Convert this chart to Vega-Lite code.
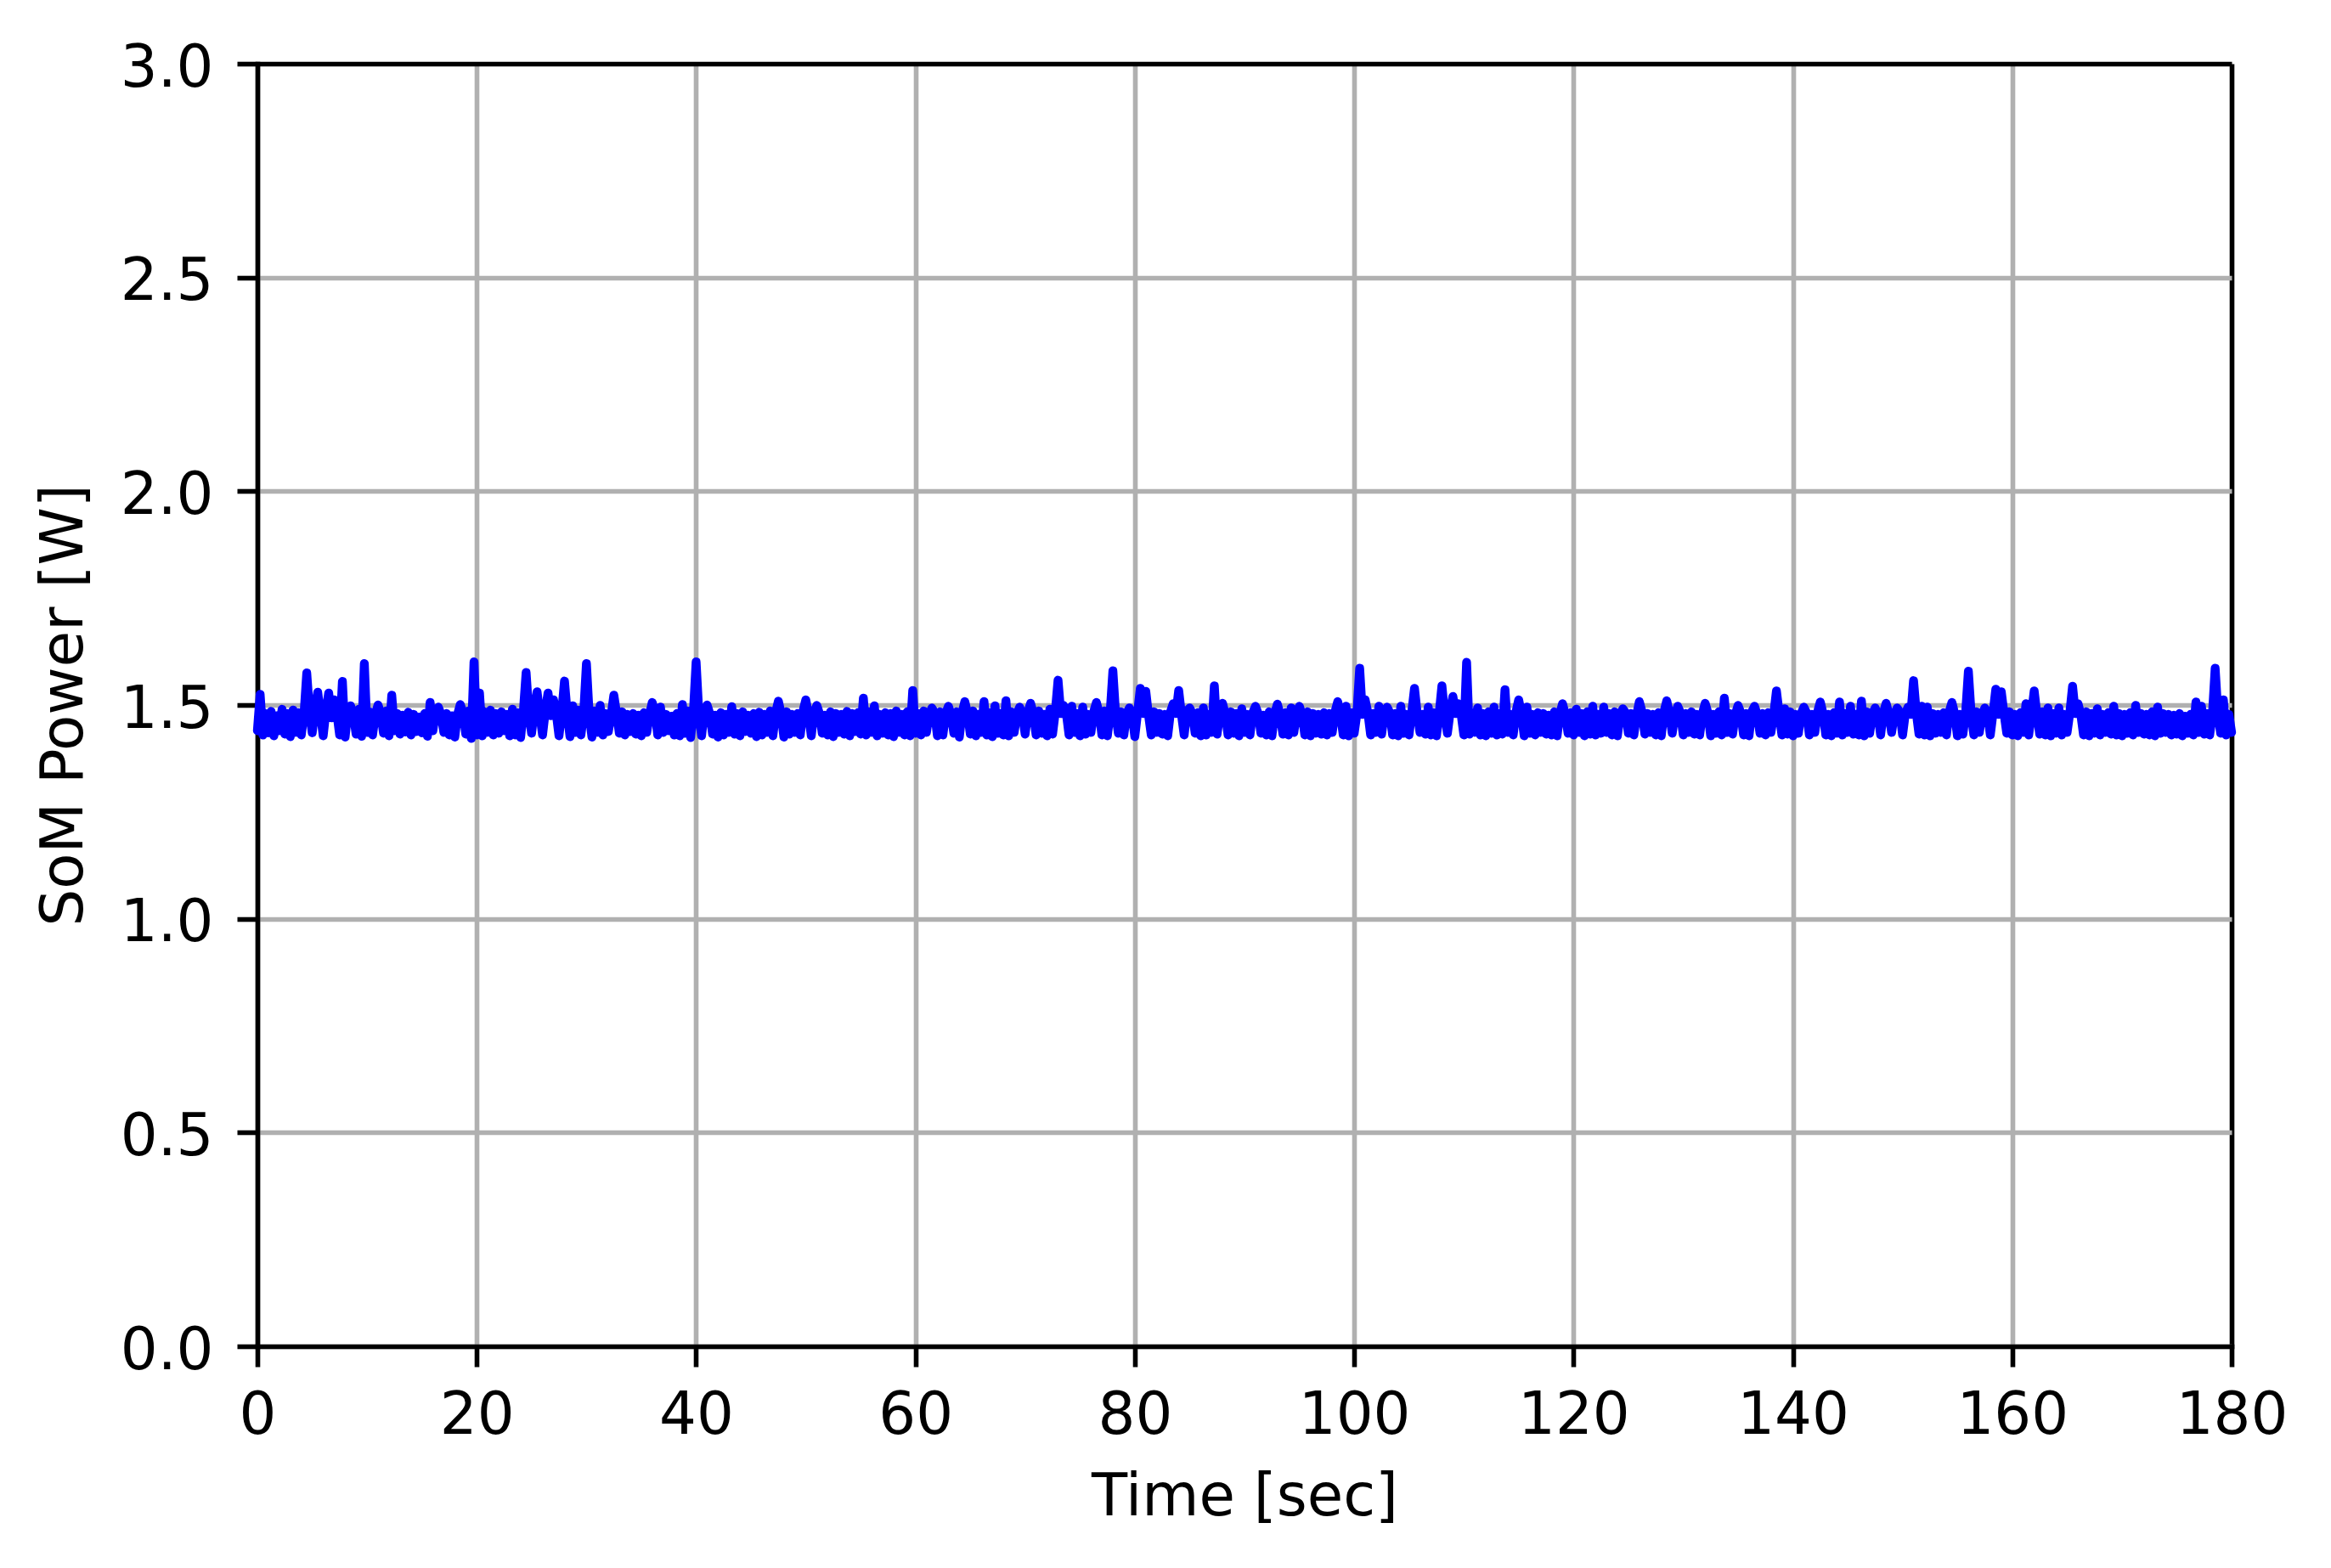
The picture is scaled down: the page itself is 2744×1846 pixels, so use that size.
{
"$schema": "https://vega.github.io/schema/vega-lite/v6.json",
"width": 2324, "height": 1510,
"autosize": {"type": "none"},
"padding": {"left": 303, "top": 75, "right": 117, "bottom": 261},
"background": "white",
"config": {"view": {"stroke": null}, "font": "DejaVu Sans"},
"data": {"values": [
{"t":0,"p":1.44},{"t":0.25,"p":1.525},{"t":0.5,"p":1.43},{"t":0.75,"p":1.48},
{"t":1,"p":1.435},{"t":1.25,"p":1.485},{"t":1.5,"p":1.428},{"t":1.75,"p":1.475},
{"t":2,"p":1.44},{"t":2.25,"p":1.49},{"t":2.5,"p":1.432},{"t":2.75,"p":1.48},
{"t":3,"p":1.426},{"t":3.25,"p":1.488},{"t":3.5,"p":1.436},{"t":3.75,"p":1.482},
{"t":4,"p":1.43},{"t":4.25,"p":1.478},{"t":4.5,"p":1.575},{"t":4.75,"p":1.485},
{"t":5,"p":1.435},{"t":5.25,"p":1.49},{"t":5.5,"p":1.53},{"t":5.75,"p":1.48},
{"t":6,"p":1.428},{"t":6.25,"p":1.486},{"t":6.5,"p":1.528},{"t":6.75,"p":1.47},
{"t":7,"p":1.512},{"t":7.25,"p":1.48},{"t":7.5,"p":1.43},{"t":7.75,"p":1.555},
{"t":8,"p":1.425},{"t":8.25,"p":1.485},{"t":8.5,"p":1.498},{"t":8.75,"p":1.478},
{"t":9,"p":1.432},{"t":9.25,"p":1.49},{"t":9.5,"p":1.427},{"t":9.75,"p":1.597},
{"t":10,"p":1.436},{"t":10.25,"p":1.484},{"t":10.5,"p":1.43},{"t":10.75,"p":1.478},
{"t":11,"p":1.5},{"t":11.25,"p":1.48},{"t":11.5,"p":1.434},{"t":11.75,"p":1.486},
{"t":12,"p":1.428},{"t":12.25,"p":1.523},{"t":12.5,"p":1.44},{"t":12.75,"p":1.48},
{"t":13,"p":1.432},{"t":13.25,"p":1.476},{"t":13.5,"p":1.437},{"t":13.75,"p":1.483},
{"t":14,"p":1.43},{"t":14.25,"p":1.478},{"t":14.5,"p":1.438},{"t":14.75,"p":1.472},
{"t":15,"p":1.435},{"t":15.25,"p":1.48},{"t":15.5,"p":1.427},{"t":15.75,"p":1.506},
{"t":16,"p":1.44},{"t":16.25,"p":1.484},{"t":16.5,"p":1.495},{"t":16.75,"p":1.478},
{"t":17,"p":1.436},{"t":17.25,"p":1.48},{"t":17.5,"p":1.43},{"t":17.75,"p":1.475},
{"t":18,"p":1.425},{"t":18.25,"p":1.478},{"t":18.5,"p":1.501},{"t":18.75,"p":1.482},
{"t":19,"p":1.432},{"t":19.25,"p":1.486},{"t":19.5,"p":1.422},{"t":19.75,"p":1.601},
{"t":20,"p":1.43},{"t":20.25,"p":1.528},{"t":20.5,"p":1.428},{"t":20.75,"p":1.484},
{"t":21,"p":1.436},{"t":21.25,"p":1.488},{"t":21.5,"p":1.43},{"t":21.75,"p":1.48},
{"t":22,"p":1.434},{"t":22.25,"p":1.484},{"t":22.5,"p":1.44},{"t":22.75,"p":1.478},
{"t":23,"p":1.428},{"t":23.25,"p":1.49},{"t":23.5,"p":1.43},{"t":23.75,"p":1.482},
{"t":24,"p":1.424},{"t":24.25,"p":1.486},{"t":24.5,"p":1.576},{"t":24.75,"p":1.48},
{"t":25,"p":1.434},{"t":25.25,"p":1.49},{"t":25.5,"p":1.531},{"t":25.75,"p":1.478},
{"t":26,"p":1.43},{"t":26.25,"p":1.486},{"t":26.5,"p":1.528},{"t":26.75,"p":1.475},
{"t":27,"p":1.512},{"t":27.25,"p":1.48},{"t":27.5,"p":1.428},{"t":27.75,"p":1.484},
{"t":28,"p":1.556},{"t":28.25,"p":1.48},{"t":28.5,"p":1.426},{"t":28.75,"p":1.498},
{"t":29,"p":1.436},{"t":29.25,"p":1.488},{"t":29.5,"p":1.43},{"t":29.75,"p":1.482},
{"t":30,"p":1.597},{"t":30.25,"p":1.478},{"t":30.5,"p":1.425},{"t":30.75,"p":1.486},
{"t":31,"p":1.436},{"t":31.25,"p":1.499},{"t":31.5,"p":1.43},{"t":31.75,"p":1.48},
{"t":32,"p":1.438},{"t":32.25,"p":1.476},{"t":32.5,"p":1.523},{"t":32.75,"p":1.48},
{"t":33,"p":1.434},{"t":33.25,"p":1.484},{"t":33.5,"p":1.43},{"t":33.75,"p":1.478},
{"t":34,"p":1.438},{"t":34.25,"p":1.48},{"t":34.5,"p":1.432},{"t":34.75,"p":1.476},
{"t":35,"p":1.428},{"t":35.25,"p":1.482},{"t":35.5,"p":1.436},{"t":35.75,"p":1.478},
{"t":36,"p":1.506},{"t":36.25,"p":1.484},{"t":36.5,"p":1.43},{"t":36.75,"p":1.495},
{"t":37,"p":1.436},{"t":37.25,"p":1.478},{"t":37.5,"p":1.44},{"t":37.75,"p":1.474},
{"t":38,"p":1.43},{"t":38.25,"p":1.48},{"t":38.5,"p":1.428},{"t":38.75,"p":1.501},
{"t":39,"p":1.434},{"t":39.25,"p":1.486},{"t":39.5,"p":1.424},{"t":39.75,"p":1.482},
{"t":40,"p":1.601},{"t":40.25,"p":1.48},{"t":40.5,"p":1.428},{"t":40.75,"p":1.485},
{"t":41,"p":1.5},{"t":41.25,"p":1.48},{"t":41.5,"p":1.432},{"t":41.75,"p":1.476},
{"t":42,"p":1.425},{"t":42.25,"p":1.482},{"t":42.5,"p":1.43},{"t":42.75,"p":1.478},
{"t":43,"p":1.436},{"t":43.25,"p":1.496},{"t":43.5,"p":1.432},{"t":43.75,"p":1.48},
{"t":44,"p":1.428},{"t":44.25,"p":1.484},{"t":44.5,"p":1.438},{"t":44.75,"p":1.476},
{"t":45,"p":1.434},{"t":45.25,"p":1.48},{"t":45.5,"p":1.426},{"t":45.75,"p":1.483},
{"t":46,"p":1.43},{"t":46.25,"p":1.478},{"t":46.5,"p":1.436},{"t":46.75,"p":1.486},
{"t":47,"p":1.428},{"t":47.25,"p":1.482},{"t":47.5,"p":1.509},{"t":47.75,"p":1.48},
{"t":48,"p":1.425},{"t":48.25,"p":1.484},{"t":48.5,"p":1.432},{"t":48.75,"p":1.478},
{"t":49,"p":1.436},{"t":49.25,"p":1.48},{"t":49.5,"p":1.43},{"t":49.75,"p":1.486},
{"t":50,"p":1.512},{"t":50.25,"p":1.478},{"t":50.5,"p":1.428},{"t":50.75,"p":1.482},
{"t":51,"p":1.499},{"t":51.25,"p":1.48},{"t":51.5,"p":1.434},{"t":51.75,"p":1.476},
{"t":52,"p":1.43},{"t":52.25,"p":1.484},{"t":52.5,"p":1.426},{"t":52.75,"p":1.48},
{"t":53,"p":1.436},{"t":53.25,"p":1.478},{"t":53.5,"p":1.432},{"t":53.75,"p":1.485},
{"t":54,"p":1.428},{"t":54.25,"p":1.48},{"t":54.5,"p":1.438},{"t":54.75,"p":1.482},
{"t":55,"p":1.432},{"t":55.25,"p":1.516},{"t":55.5,"p":1.43},{"t":55.75,"p":1.484},
{"t":56,"p":1.436},{"t":56.25,"p":1.498},{"t":56.5,"p":1.428},{"t":56.75,"p":1.478},
{"t":57,"p":1.434},{"t":57.25,"p":1.482},{"t":57.5,"p":1.43},{"t":57.75,"p":1.48},
{"t":58,"p":1.426},{"t":58.25,"p":1.486},{"t":58.5,"p":1.436},{"t":58.75,"p":1.478},
{"t":59,"p":1.43},{"t":59.25,"p":1.484},{"t":59.5,"p":1.428},{"t":59.75,"p":1.534},
{"t":60,"p":1.434},{"t":60.25,"p":1.48},{"t":60.5,"p":1.43},{"t":60.75,"p":1.486},
{"t":61,"p":1.436},{"t":61.25,"p":1.478},{"t":61.5,"p":1.493},{"t":61.75,"p":1.482},
{"t":62,"p":1.428},{"t":62.25,"p":1.484},{"t":62.5,"p":1.43},{"t":62.75,"p":1.48},
{"t":63,"p":1.497},{"t":63.25,"p":1.478},{"t":63.5,"p":1.434},{"t":63.75,"p":1.484},
{"t":64,"p":1.425},{"t":64.25,"p":1.482},{"t":64.5,"p":1.508},{"t":64.75,"p":1.48},
{"t":65,"p":1.432},{"t":65.25,"p":1.486},{"t":65.5,"p":1.428},{"t":65.75,"p":1.478},
{"t":66,"p":1.436},{"t":66.25,"p":1.508},{"t":66.5,"p":1.43},{"t":66.75,"p":1.482},
{"t":67,"p":1.426},{"t":67.25,"p":1.498},{"t":67.5,"p":1.434},{"t":67.75,"p":1.48},
{"t":68,"p":1.43},{"t":68.25,"p":1.51},{"t":68.5,"p":1.428},{"t":68.75,"p":1.484},
{"t":69,"p":1.436},{"t":69.25,"p":1.48},{"t":69.5,"p":1.495},{"t":69.75,"p":1.478},
{"t":70,"p":1.432},{"t":70.25,"p":1.484},{"t":70.5,"p":1.504},{"t":70.75,"p":1.48},
{"t":71,"p":1.43},{"t":71.25,"p":1.486},{"t":71.5,"p":1.434},{"t":71.75,"p":1.478},
{"t":72,"p":1.428},{"t":72.25,"p":1.49},{"t":72.5,"p":1.432},{"t":72.75,"p":1.484},
{"t":73,"p":1.558},{"t":73.25,"p":1.48},{"t":73.5,"p":1.499},{"t":73.75,"p":1.482},
{"t":74,"p":1.43},{"t":74.25,"p":1.497},{"t":74.5,"p":1.436},{"t":74.75,"p":1.48},
{"t":75,"p":1.428},{"t":75.25,"p":1.495},{"t":75.5,"p":1.432},{"t":75.75,"p":1.478},
{"t":76,"p":1.436},{"t":76.25,"p":1.484},{"t":76.5,"p":1.506},{"t":76.75,"p":1.48},
{"t":77,"p":1.43},{"t":77.25,"p":1.486},{"t":77.5,"p":1.428},{"t":77.75,"p":1.482},
{"t":78,"p":1.58},{"t":78.25,"p":1.478},{"t":78.5,"p":1.434},{"t":78.75,"p":1.484},
{"t":79,"p":1.43},{"t":79.25,"p":1.48},{"t":79.5,"p":1.493},{"t":79.75,"p":1.478},
{"t":80,"p":1.426},{"t":80.25,"p":1.482},{"t":80.5,"p":1.539},{"t":80.75,"p":1.48},
{"t":81,"p":1.532},{"t":81.25,"p":1.476},{"t":81.5,"p":1.43},{"t":81.75,"p":1.484},
{"t":82,"p":1.436},{"t":82.25,"p":1.48},{"t":82.5,"p":1.432},{"t":82.75,"p":1.478},
{"t":83,"p":1.428},{"t":83.25,"p":1.484},{"t":83.5,"p":1.503},{"t":83.75,"p":1.48},
{"t":84,"p":1.534},{"t":84.25,"p":1.478},{"t":84.5,"p":1.43},{"t":84.75,"p":1.486},
{"t":85,"p":1.493},{"t":85.25,"p":1.48},{"t":85.5,"p":1.434},{"t":85.75,"p":1.482},
{"t":86,"p":1.428},{"t":86.25,"p":1.493},{"t":86.5,"p":1.43},{"t":86.75,"p":1.478},
{"t":87,"p":1.436},{"t":87.25,"p":1.545},{"t":87.5,"p":1.432},{"t":87.75,"p":1.48},
{"t":88,"p":1.504},{"t":88.25,"p":1.478},{"t":88.5,"p":1.43},{"t":88.75,"p":1.484},
{"t":89,"p":1.434},{"t":89.25,"p":1.48},{"t":89.5,"p":1.428},{"t":89.75,"p":1.491},
{"t":90,"p":1.436},{"t":90.25,"p":1.478},{"t":90.5,"p":1.43},{"t":90.75,"p":1.482},
{"t":91,"p":1.497},{"t":91.25,"p":1.48},{"t":91.5,"p":1.434},{"t":91.75,"p":1.476},
{"t":92,"p":1.43},{"t":92.25,"p":1.484},{"t":92.5,"p":1.428},{"t":92.75,"p":1.48},
{"t":93,"p":1.502},{"t":93.25,"p":1.478},{"t":93.5,"p":1.432},{"t":93.75,"p":1.482},
{"t":94,"p":1.43},{"t":94.25,"p":1.493},{"t":94.5,"p":1.436},{"t":94.75,"p":1.48},
{"t":95,"p":1.497},{"t":95.25,"p":1.478},{"t":95.5,"p":1.43},{"t":95.75,"p":1.484},
{"t":96,"p":1.428},{"t":96.25,"p":1.48},{"t":96.5,"p":1.434},{"t":96.75,"p":1.478},
{"t":97,"p":1.432},{"t":97.25,"p":1.482},{"t":97.5,"p":1.43},{"t":97.75,"p":1.48},
{"t":98,"p":1.436},{"t":98.25,"p":1.484},{"t":98.5,"p":1.508},{"t":98.75,"p":1.478},
{"t":99,"p":1.43},{"t":99.25,"p":1.497},{"t":99.5,"p":1.428},{"t":99.75,"p":1.482},
{"t":100,"p":1.434},{"t":100.25,"p":1.48},{"t":100.5,"p":1.586},{"t":100.75,"p":1.478},
{"t":101,"p":1.512},{"t":101.25,"p":1.482},{"t":101.5,"p":1.43},{"t":101.75,"p":1.48},
{"t":102,"p":1.436},{"t":102.25,"p":1.497},{"t":102.5,"p":1.432},{"t":102.75,"p":1.478},
{"t":103,"p":1.495},{"t":103.25,"p":1.482},{"t":103.5,"p":1.43},{"t":103.75,"p":1.48},
{"t":104,"p":1.428},{"t":104.25,"p":1.497},{"t":104.5,"p":1.434},{"t":104.75,"p":1.478},
{"t":105,"p":1.43},{"t":105.25,"p":1.484},{"t":105.5,"p":1.539},{"t":105.75,"p":1.48},
{"t":106,"p":1.436},{"t":106.25,"p":1.478},{"t":106.5,"p":1.432},{"t":106.75,"p":1.495},
{"t":107,"p":1.43},{"t":107.25,"p":1.482},{"t":107.5,"p":1.428},{"t":107.75,"p":1.48},
{"t":108,"p":1.545},{"t":108.25,"p":1.478},{"t":108.5,"p":1.434},{"t":108.75,"p":1.484},
{"t":109,"p":1.52},{"t":109.25,"p":1.48},{"t":109.5,"p":1.503},{"t":109.75,"p":1.478},
{"t":110,"p":1.43},{"t":110.25,"p":1.6},{"t":110.5,"p":1.432},{"t":110.75,"p":1.482},
{"t":111,"p":1.436},{"t":111.25,"p":1.493},{"t":111.5,"p":1.43},{"t":111.75,"p":1.48},
{"t":112,"p":1.428},{"t":112.25,"p":1.484},{"t":112.5,"p":1.434},{"t":112.75,"p":1.495},
{"t":113,"p":1.43},{"t":113.25,"p":1.48},{"t":113.5,"p":1.432},{"t":113.75,"p":1.536},
{"t":114,"p":1.436},{"t":114.25,"p":1.478},{"t":114.5,"p":1.43},{"t":114.75,"p":1.484},
{"t":115,"p":1.512},{"t":115.25,"p":1.48},{"t":115.5,"p":1.428},{"t":115.75,"p":1.495},
{"t":116,"p":1.434},{"t":116.25,"p":1.478},{"t":116.5,"p":1.43},{"t":116.75,"p":1.482},
{"t":117,"p":1.436},{"t":117.25,"p":1.48},{"t":117.5,"p":1.432},{"t":117.75,"p":1.476},
{"t":118,"p":1.43},{"t":118.25,"p":1.484},{"t":118.5,"p":1.428},{"t":118.75,"p":1.48},
{"t":119,"p":1.503},{"t":119.25,"p":1.478},{"t":119.5,"p":1.434},{"t":119.75,"p":1.482},
{"t":120,"p":1.43},{"t":120.25,"p":1.49},{"t":120.5,"p":1.436},{"t":120.75,"p":1.48},
{"t":121,"p":1.428},{"t":121.25,"p":1.484},{"t":121.5,"p":1.432},{"t":121.75,"p":1.497},
{"t":122,"p":1.43},{"t":122.25,"p":1.478},{"t":122.5,"p":1.434},{"t":122.75,"p":1.495},
{"t":123,"p":1.436},{"t":123.25,"p":1.48},{"t":123.5,"p":1.43},{"t":123.75,"p":1.484},
{"t":124,"p":1.428},{"t":124.25,"p":1.478},{"t":124.5,"p":1.491},{"t":124.75,"p":1.482},
{"t":125,"p":1.434},{"t":125.25,"p":1.48},{"t":125.5,"p":1.43},{"t":125.75,"p":1.476},
{"t":126,"p":1.508},{"t":126.25,"p":1.484},{"t":126.5,"p":1.432},{"t":126.75,"p":1.48},
{"t":127,"p":1.436},{"t":127.25,"p":1.478},{"t":127.5,"p":1.43},{"t":127.75,"p":1.482},
{"t":128,"p":1.428},{"t":128.25,"p":1.484},{"t":128.5,"p":1.51},{"t":128.75,"p":1.48},
{"t":129,"p":1.434},{"t":129.25,"p":1.478},{"t":129.5,"p":1.497},{"t":129.75,"p":1.482},
{"t":130,"p":1.43},{"t":130.25,"p":1.48},{"t":130.5,"p":1.436},{"t":130.75,"p":1.484},
{"t":131,"p":1.432},{"t":131.25,"p":1.478},{"t":131.5,"p":1.43},{"t":131.75,"p":1.48},
{"t":132,"p":1.504},{"t":132.25,"p":1.482},{"t":132.5,"p":1.428},{"t":132.75,"p":1.478},
{"t":133,"p":1.434},{"t":133.25,"p":1.484},{"t":133.5,"p":1.43},{"t":133.75,"p":1.516},
{"t":134,"p":1.436},{"t":134.25,"p":1.48},{"t":134.5,"p":1.432},{"t":134.75,"p":1.478},
{"t":135,"p":1.499},{"t":135.25,"p":1.482},{"t":135.5,"p":1.43},{"t":135.75,"p":1.48},
{"t":136,"p":1.428},{"t":136.25,"p":1.484},{"t":136.5,"p":1.497},{"t":136.75,"p":1.478},
{"t":137,"p":1.434},{"t":137.25,"p":1.48},{"t":137.5,"p":1.43},{"t":137.75,"p":1.482},
{"t":138,"p":1.436},{"t":138.25,"p":1.478},{"t":138.5,"p":1.533},{"t":138.75,"p":1.48},
{"t":139,"p":1.43},{"t":139.25,"p":1.491},{"t":139.5,"p":1.432},{"t":139.75,"p":1.484},
{"t":140,"p":1.428},{"t":140.25,"p":1.478},{"t":140.5,"p":1.434},{"t":140.75,"p":1.48},
{"t":141,"p":1.495},{"t":141.25,"p":1.482},{"t":141.5,"p":1.43},{"t":141.75,"p":1.478},
{"t":142,"p":1.436},{"t":142.25,"p":1.484},{"t":142.5,"p":1.507},{"t":142.75,"p":1.48},
{"t":143,"p":1.43},{"t":143.25,"p":1.478},{"t":143.5,"p":1.428},{"t":143.75,"p":1.482},
{"t":144,"p":1.434},{"t":144.25,"p":1.507},{"t":144.5,"p":1.43},{"t":144.75,"p":1.48},
{"t":145,"p":1.436},{"t":145.25,"p":1.497},{"t":145.5,"p":1.432},{"t":145.75,"p":1.478},
{"t":146,"p":1.43},{"t":146.25,"p":1.509},{"t":146.5,"p":1.428},{"t":146.75,"p":1.484},
{"t":147,"p":1.434},{"t":147.25,"p":1.48},{"t":147.5,"p":1.493},{"t":147.75,"p":1.478},
{"t":148,"p":1.43},{"t":148.25,"p":1.482},{"t":148.5,"p":1.504},{"t":148.75,"p":1.48},
{"t":149,"p":1.436},{"t":149.25,"p":1.478},{"t":149.5,"p":1.493},{"t":149.75,"p":1.484},
{"t":150,"p":1.43},{"t":150.25,"p":1.48},{"t":150.5,"p":1.495},{"t":150.75,"p":1.478},
{"t":151,"p":1.557},{"t":151.25,"p":1.482},{"t":151.5,"p":1.432},{"t":151.75,"p":1.497},
{"t":152,"p":1.43},{"t":152.25,"p":1.495},{"t":152.5,"p":1.428},{"t":152.75,"p":1.48},
{"t":153,"p":1.434},{"t":153.25,"p":1.478},{"t":153.5,"p":1.436},{"t":153.75,"p":1.482},
{"t":154,"p":1.43},{"t":154.25,"p":1.484},{"t":154.5,"p":1.506},{"t":154.75,"p":1.48},
{"t":155,"p":1.428},{"t":155.25,"p":1.478},{"t":155.5,"p":1.432},{"t":155.75,"p":1.482},
{"t":156,"p":1.579},{"t":156.25,"p":1.48},{"t":156.5,"p":1.43},{"t":156.75,"p":1.484},
{"t":157,"p":1.436},{"t":157.25,"p":1.478},{"t":157.5,"p":1.493},{"t":157.75,"p":1.48},
{"t":158,"p":1.43},{"t":158.25,"p":1.482},{"t":158.5,"p":1.537},{"t":158.75,"p":1.478},
{"t":159,"p":1.531},{"t":159.25,"p":1.48},{"t":159.5,"p":1.434},{"t":159.75,"p":1.484},
{"t":160,"p":1.43},{"t":160.25,"p":1.478},{"t":160.5,"p":1.428},{"t":160.75,"p":1.482},
{"t":161,"p":1.436},{"t":161.25,"p":1.503},{"t":161.5,"p":1.43},{"t":161.75,"p":1.48},
{"t":162,"p":1.533},{"t":162.25,"p":1.478},{"t":162.5,"p":1.432},{"t":162.75,"p":1.484},
{"t":163,"p":1.43},{"t":163.25,"p":1.493},{"t":163.5,"p":1.428},{"t":163.75,"p":1.48},
{"t":164,"p":1.434},{"t":164.25,"p":1.493},{"t":164.5,"p":1.43},{"t":164.75,"p":1.478},
{"t":165,"p":1.436},{"t":165.25,"p":1.482},{"t":165.5,"p":1.544},{"t":165.75,"p":1.48},
{"t":166,"p":1.503},{"t":166.25,"p":1.478},{"t":166.5,"p":1.43},{"t":166.75,"p":1.484},
{"t":167,"p":1.428},{"t":167.25,"p":1.48},{"t":167.5,"p":1.434},{"t":167.75,"p":1.491},
{"t":168,"p":1.43},{"t":168.25,"p":1.478},{"t":168.5,"p":1.436},{"t":168.75,"p":1.482},
{"t":169,"p":1.432},{"t":169.25,"p":1.497},{"t":169.5,"p":1.43},{"t":169.75,"p":1.48},
{"t":170,"p":1.428},{"t":170.25,"p":1.478},{"t":170.5,"p":1.434},{"t":170.75,"p":1.482},
{"t":171,"p":1.43},{"t":171.25,"p":1.499},{"t":171.5,"p":1.436},{"t":171.75,"p":1.48},
{"t":172,"p":1.432},{"t":172.25,"p":1.478},{"t":172.5,"p":1.43},{"t":172.75,"p":1.484},
{"t":173,"p":1.428},{"t":173.25,"p":1.495},{"t":173.5,"p":1.434},{"t":173.75,"p":1.48},
{"t":174,"p":1.436},{"t":174.25,"p":1.478},{"t":174.5,"p":1.43},{"t":174.75,"p":1.476},
{"t":175,"p":1.432},{"t":175.25,"p":1.48},{"t":175.5,"p":1.428},{"t":175.75,"p":1.474},
{"t":176,"p":1.434},{"t":176.25,"p":1.478},{"t":176.5,"p":1.43},{"t":176.75,"p":1.507},
{"t":177,"p":1.436},{"t":177.25,"p":1.497},{"t":177.5,"p":1.432},{"t":177.75,"p":1.48},
{"t":178,"p":1.43},{"t":178.25,"p":1.478},{"t":178.5,"p":1.586},{"t":178.75,"p":1.48},
{"t":179,"p":1.434},{"t":179.25,"p":1.512},{"t":179.5,"p":1.43},{"t":179.75,"p":1.478},
{"t":180,"p":1.436}
]},
"mark": {"type": "line", "color": "#0000ff", "strokeWidth": 10.4, "strokeCap": "round", "strokeJoin": "round"},
"encoding": {
  "x": {"field": "t", "type": "quantitative",
    "scale": {"domain": [0, 180], "nice": false, "zero": false},
    "axis": {"values": [0,20,40,60,80,100,120,140,160,180], "title": "Time [sec]",
      "grid": true, "gridColor": {"condition": {"test": "datum.value === 180", "value": "black"}, "value": "#b0b0b0"}, "gridWidth": 5.6,
      "domainColor": "black", "domainWidth": 5.6, "domainCap": "square",
      "tickColor": "black", "tickWidth": 5.6, "tickSize": 24,
      "labelFont": "DejaVu Sans", "labelFontSize": 69, "labelColor": "black", "labelPadding": 23, "labelFlush": false, "labelOverlap": false,
      "titleFont": "DejaVu Sans", "titleFontSize": 69, "titleFontWeight": "normal", "titleColor": "black",
      "titleX": 1162, "titleY": 198, "titleBaseline": "alphabetic", "titleAlign": "center"}},
  "y": {"field": "p", "type": "quantitative",
    "scale": {"domain": [0, 3], "nice": false, "zero": false},
    "axis": {"values": [0,0.5,1,1.5,2,2.5,3], "format": ".1f", "title": "SoM Power [W]",
      "grid": true, "gridColor": {"condition": {"test": "datum.value === 3", "value": "black"}, "value": "#b0b0b0"}, "gridWidth": 5.6,
      "domainColor": "black", "domainWidth": 5.6, "domainCap": "square",
      "tickColor": "black", "tickWidth": 5.6, "tickSize": 24,
      "labelFont": "DejaVu Sans", "labelFontSize": 69, "labelColor": "black", "labelPadding": 28, "labelFlush": false, "labelOverlap": false, "labelOffset": 5,
      "titleFont": "DejaVu Sans", "titleFontSize": 69, "titleFontWeight": "normal", "titleColor": "black",
      "titleAngle": 270, "titleX": -207, "titleY": 755, "titleBaseline": "alphabetic", "titleAlign": "center"}}
}
}
